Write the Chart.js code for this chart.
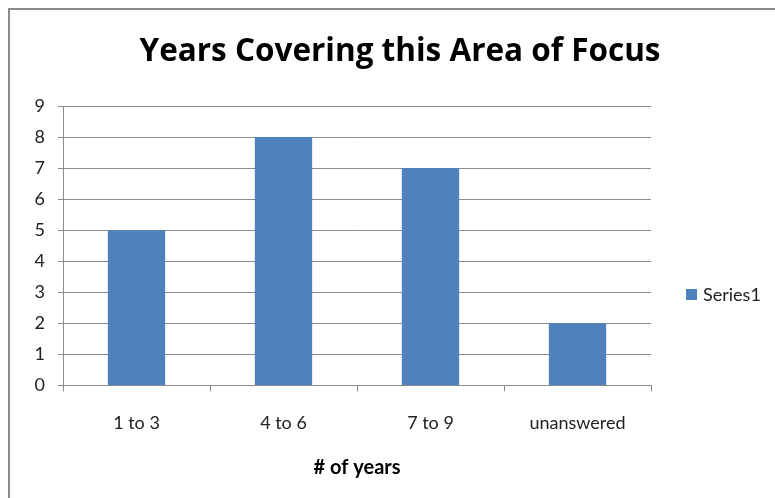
<!DOCTYPE html>
<html>
<head>
<meta charset="utf-8">
<title>Years Covering this Area of Focus</title>
<script src="https://cdn.jsdelivr.net/npm/chart.js@4/dist/chart.umd.min.js"></script>
<style>
  html, body { margin: 0; padding: 0; background: #fff; overflow: hidden; }
  #wrap { position: relative; width: 775px; height: 498px; }
  #frame {
    position: absolute; left: 8px; top: 8px; width: 800px; height: 520px;
    border: 2px solid #8c8c8c; box-sizing: border-box;
  }
  canvas { position: absolute; left: 0; top: 0; }
</style>
</head>
<body>
<div id="wrap">
  <div id="frame"></div>
  <canvas id="chart" width="775" height="498"></canvas>
</div>
<script>
const categories = ['1 to 3', '4 to 6', '7 to 9', 'unanswered'];
const series1 = [5, 8, 7, 2];
const yTicks = [0, 1, 2, 3, 4, 5, 6, 7, 8, 9];
const chartTitle = 'Years Covering this Area of Focus';

const FONT = "Lato, 'Open Sans', sans-serif";
const BLUE = '#4f81bd';

// title is centred on the whole frame (not the plot), legend sits right of the plot
const headerAndLegend = {
  id: 'headerAndLegend',
  afterDraw(chart) {
    const ctx = chart.ctx;
    const ds = chart.data.datasets[0];
    ctx.save();
    ctx.fillStyle = '#000';
    ctx.font = "bold 31.5px 'Open Sans', sans-serif";
    ctx.textAlign = 'center';
    ctx.textBaseline = 'alphabetic';
    ctx.fillText(chartTitle, 400, 61);

    ctx.fillStyle = ds.backgroundColor;
    ctx.fillRect(686, 289, 11, 11);
    ctx.fillStyle = '#222';
    ctx.font = '18px ' + FONT;
    ctx.textBaseline = 'middle';
    ctx.textAlign = 'left';
    ctx.fillText(ds.label, 703, 295);
    ctx.restore();
  }
};

new Chart(document.getElementById('chart'), {
  type: 'bar',
  data: {
    labels: categories,
    datasets: [{
      label: 'Series1',
      data: series1,
      backgroundColor: BLUE,
      categoryPercentage: 1,
      barPercentage: 0.39
    }]
  },
  options: {
    responsive: false,
    animation: false,
    layout: { padding: { left: 25, right: 124, top: 106, bottom: 18 } },
    plugins: {
      legend: { display: false },
      tooltip: { enabled: false },
      title: { display: false }
    },
    scales: {
      x: {
        grid: { display: true, drawOnChartArea: false, color: '#8c8c8c', tickLength: 6, offset: true },
        border: { color: '#8c8c8c' },
        ticks: { color: '#222', font: { family: FONT, size: 18, lineHeight: 1.2 }, padding: 21 },
        title: {
          display: true,
          text: '# of years',
          color: '#000',
          font: { family: FONT, size: 20, weight: 'bold', lineHeight: 1.2 },
          padding: { top: 1, bottom: 0 }
        }
      },
      y: {
        min: 0,
        max: 9,
        afterFit(axis) { axis.width = 38; },
        afterBuildTicks(axis) { axis.ticks = yTicks.map(v => ({ value: v })); },
        grid: { color: '#8c8c8c', tickLength: 5 },
        border: { color: '#8c8c8c' },
        ticks: { color: '#222', font: { family: FONT, size: 18 }, padding: 13, stepSize: 1 }
      }
    }
  },
  plugins: [headerAndLegend]
});
</script>
</body>
</html>
